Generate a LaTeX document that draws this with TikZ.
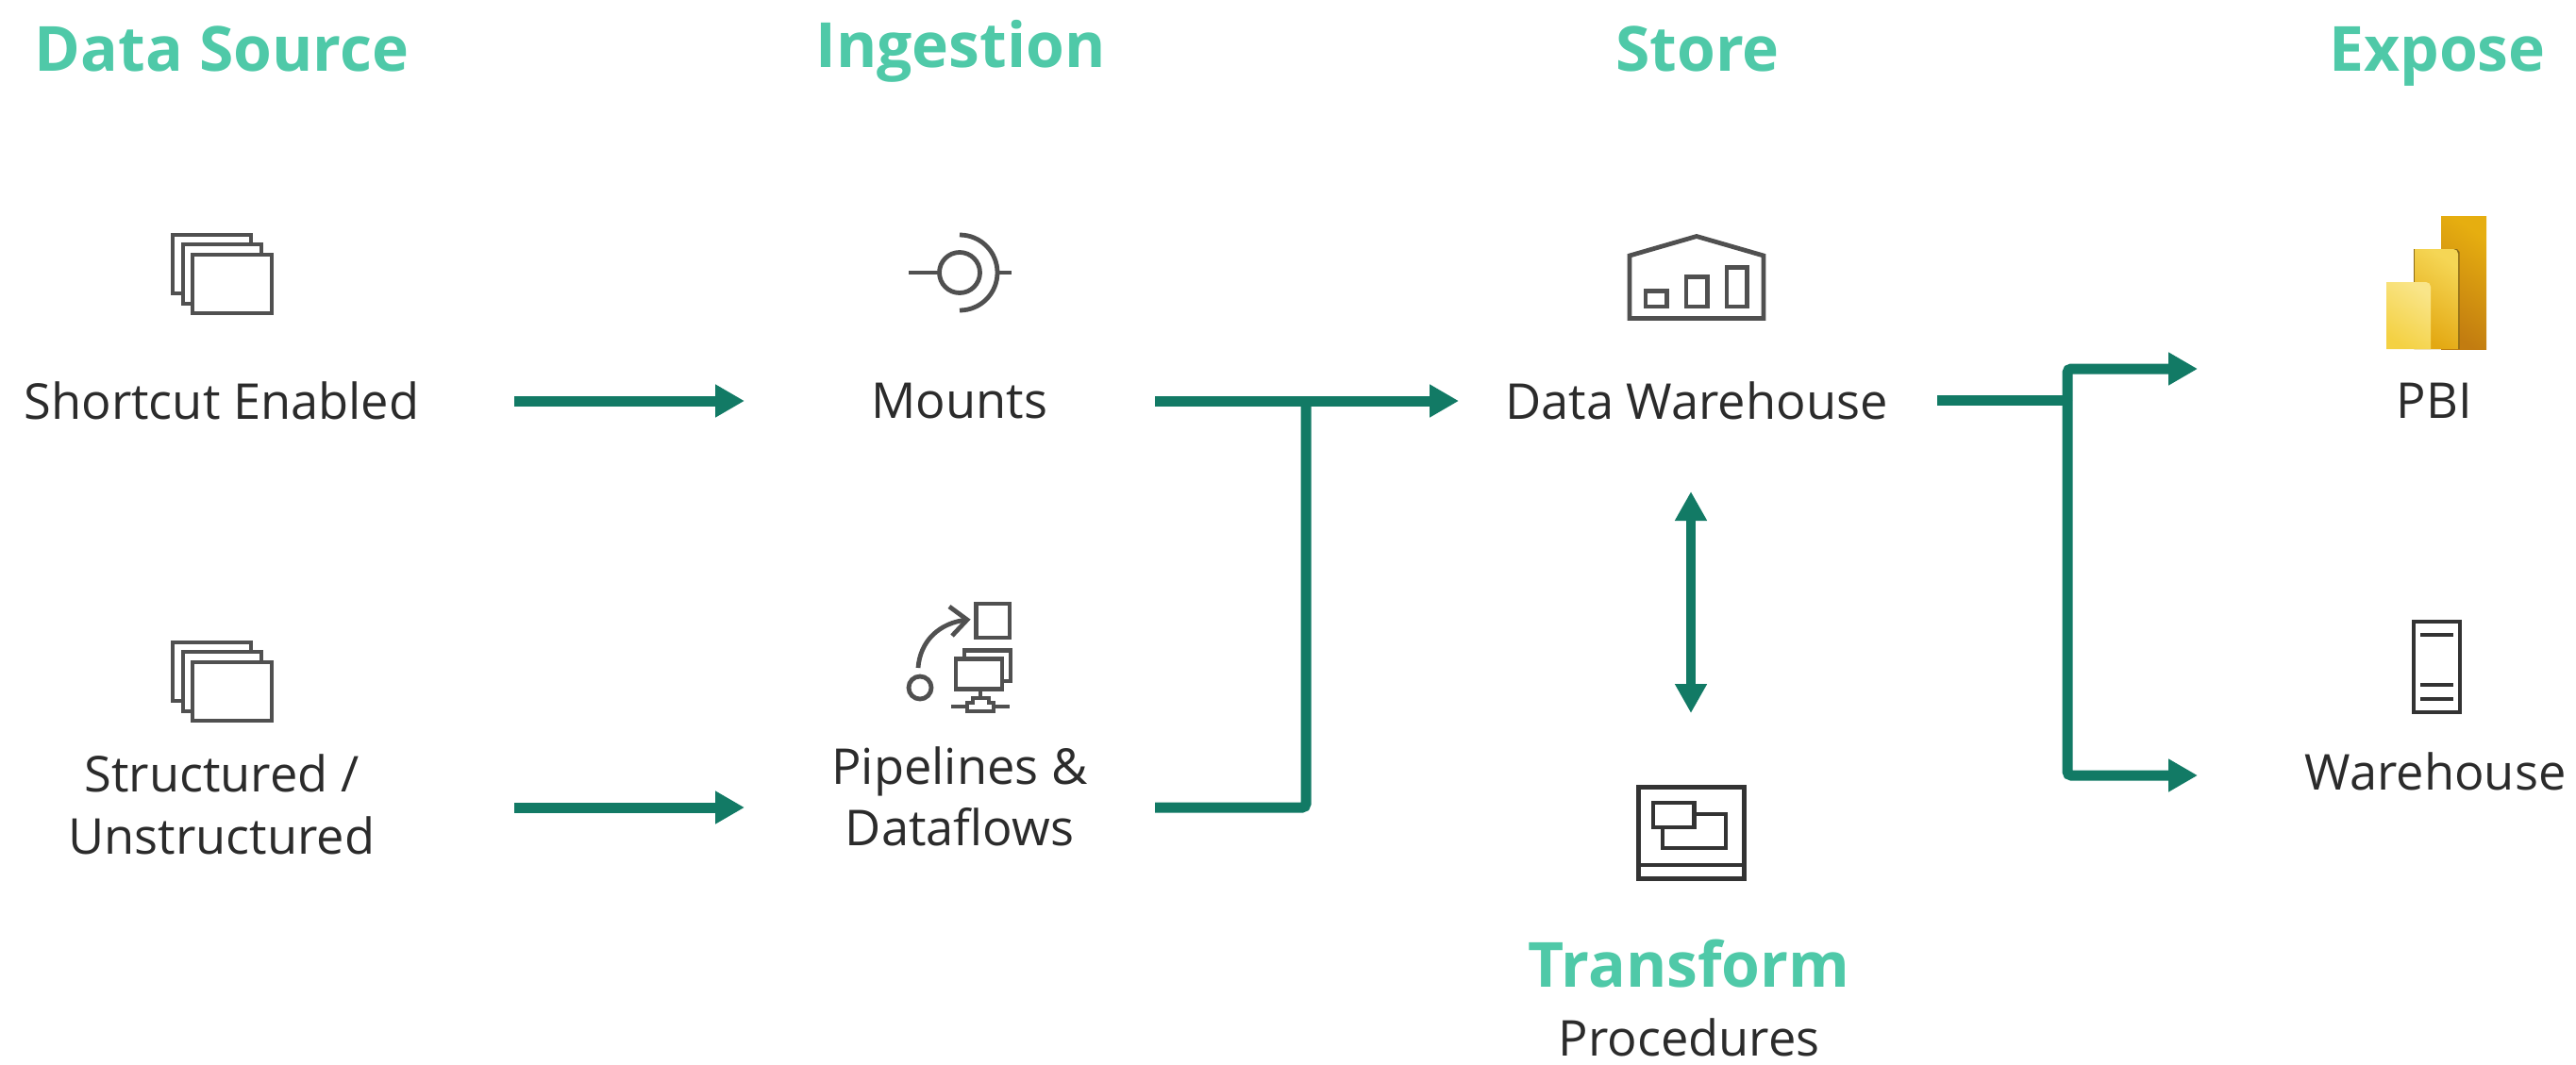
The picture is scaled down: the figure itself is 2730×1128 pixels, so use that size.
\documentclass[tikz,border=0pt]{standalone}
\usepackage{fontspec}
\setmainfont{Open Sans}
\usetikzlibrary{arrows.meta}
\definecolor{headgreen}{HTML}{4FC9A8}
\definecolor{flowgreen}{HTML}{127A65}
\definecolor{labelink}{HTML}{2B2B2B}
\definecolor{iconink}{HTML}{505050}
\definecolor{darkink}{HTML}{333333}
\definecolor{pbiA}{HTML}{E6AE10}
\definecolor{pbiB}{HTML}{C27C10}
\definecolor{pbiC}{HTML}{F5D655}
\definecolor{pbiD}{HTML}{E3A812}
\definecolor{pbiE}{HTML}{F9E589}
\definecolor{pbiF}{HTML}{F4D143}
\definecolor{pbiS}{HTML}{8A6A18}
\tikzset{
  x=1pt,y=-1pt,
  head/.style={text=headgreen,font=\fontsize{66}{66}\selectfont\bfseries,inner sep=0pt,anchor=center},
  lbl/.style={text=labelink,font=\fontsize{52.4}{52.4}\selectfont,inner sep=0pt,anchor=center},
  flow/.style={draw=flowgreen,line width=11pt,rounded corners=4pt},
  flowtip/.style={-{Triangle[length=31pt,width=33pt]}},
  flowtips/.style={{Triangle[length=31pt,width=32pt]}-{Triangle[length=31pt,width=32pt]}},
  ico/.style={draw=iconink,line width=4.8pt,fill=none},
  icod/.style={draw=darkink,line width=4.8pt,fill=none},
}
\begin{document}
\begin{tikzpicture}
\useasboundingbox (0,0) rectangle (2730,1128);
% headings
\node[head] (hsource) at (235,52) {Data Source};
\node[head] (hingest) at (1018,54) {Ingestion};
\node[head] (hstore) at (1799,52) {Store};
\node[head] (hexpose) at (2583,60) {Expose};
\node[head] (htransform) at (1790,1022) {Transform};
% labels
\node[lbl] (shortcut) at (235,425) {Shortcut Enabled};
\node[lbl,align=center,font=\fontsize{52.4}{66}\selectfont] (structured) at (235,853) {Structured /\\Unstructured};
\node[lbl] (mounts) at (1017,425) {Mounts};
\node[lbl,align=center,font=\fontsize{52.4}{65}\selectfont] (pipelines) at (1017,844) {Pipelines \&\\Dataflows};
\node[lbl] (dw) at (1798,425) {Data Warehouse};
\node[lbl] (proc) at (1790,1100) {Procedures};
\node[lbl] (pbi) at (2580,425) {PBI};
\node[lbl] (wh) at (2581,818) {Warehouse};
% connector ends
\coordinate (a1s) at (545,425); \coordinate (a1e) at (789,425);
\coordinate (a2s) at (545,856); \coordinate (a2e) at (789,856);
\coordinate (m1s) at (1224,425); \coordinate (m1e) at (1546,425);
\coordinate (p1s) at (1224,856); \coordinate (p1b) at (1384,856); \coordinate (p1t) at (1384,425);
\coordinate (d1s) at (2053,424); \coordinate (d1j) at (2191,424);
\coordinate (d1u) at (2191,391); \coordinate (d1e) at (2329,391);
\coordinate (d2u) at (2191,822); \coordinate (d2e) at (2329,822);
\coordinate (t1) at (1792,521); \coordinate (t2) at (1792,756);
% connectors
\draw[flow,flowtip] (a1s) -- (a1e);
\draw[flow,flowtip] (a2s) -- (a2e);
\draw[flow,flowtip] (m1s) -- (m1e);
\draw[flow] (p1s) -- (p1b) -- (p1t);
\draw[flow] (d1s) -- (d1j);
\draw[flow,flowtip] (d1j) -- (d1u) -- (d1e);
\draw[flow,flowtip] (d1j) -- (d2u) -- (d2e);
\draw[flow,flowtips,line width=10.5pt] (t1) -- (t2);
% stacked-pages icons
\foreach \dy in {0,432}{
  \begin{scope}[yshift=-\dy pt]
    \draw[ico] (266,259) -- (266,249) -- (183,249) -- (183,311) -- (194,311);
    \draw[ico] (277,270) -- (277,259) -- (194,259) -- (194,322) -- (204,322);
    \draw[ico] (204,270) rectangle (288,332);
  \end{scope}
}
% mount icon
\draw[ico] (963,289) -- (996,289);
\draw[ico] (1017,289) circle[radius=21.5pt];
\draw[ico] (1017,329) arc[start angle=-90,end angle=90,radius=40pt];
\draw[ico] (1057,289) -- (1072,289);
% pipelines icon
\draw[ico] (1034.5,640) rectangle (1070,676);
\draw[ico] (973,708) .. controls (975,680) and (995,660) .. (1025,657);
\draw[ico] (1006,643) -- (1025,657) -- (1009,674);
\draw[ico] (975,729) circle[radius=12pt];
\draw[ico] (1022,699) -- (1022,689.5) -- (1071,689.5) -- (1071,722) -- (1061,722);
\draw[ico] (1013,698.5) rectangle (1062,730.5);
\draw[ico] (1039,730) -- (1039,740) -- (1048,740) -- (1048,745) -- (1053,745) -- (1053,754) -- (1025,754) -- (1025,745) -- (1031,745) -- (1031,740) -- (1039,740);
\draw[ico] (1008,749) -- (1025,749) (1053,749) -- (1070,749);
% warehouse icon
\draw[ico,line join=miter] (1727,271) -- (1798,250.5) -- (1869,271) -- (1869,337.5) -- (1727,337.5) -- cycle;
\draw[ico] (1744,308.5) rectangle (1766.5,325);
\draw[ico] (1787,293.5) rectangle (1809.5,325);
\draw[ico] (1830,283.5) rectangle (1851.5,325);
% transform icon
\draw[icod] (1736.5,834.5) rectangle (1848.5,931.5);
\draw[icod] (1735,917) -- (1850,917);
\draw[icod] (1752,851) rectangle (1795.5,877);
\draw[icod] (1795,863) -- (1829,863) -- (1829,899) -- (1762,899) -- (1762,877);
% PBI logo
\shade[shading=axis,left color=pbiA,right color=pbiB,shading angle=-35] (2587,229) rectangle (2635,370);
\fill[pbiS] (2558,264) -- (2604,264) -- (2606.5,267) -- (2606.5,370) -- (2558,370) -- cycle;
\shade[shading=axis,left color=pbiC,right color=pbiD,shading angle=-35] (2559,370) -- (2559,264) [rounded corners=5pt] -- (2605,264) [sharp corners] -- (2605,370) -- cycle;
\shade[shading=axis,left color=pbiE,right color=pbiF,shading angle=-35] (2529,370) -- (2529,299) [rounded corners=5pt] -- (2576,299) [sharp corners] -- (2576,370) -- cycle;
% server icon
\draw[icod] (2558,659) rectangle (2607,755);
\draw[icod] (2565,673) -- (2600,673) (2565,726) -- (2600,726) (2565,741) -- (2600,741);
\end{tikzpicture}
\end{document}
